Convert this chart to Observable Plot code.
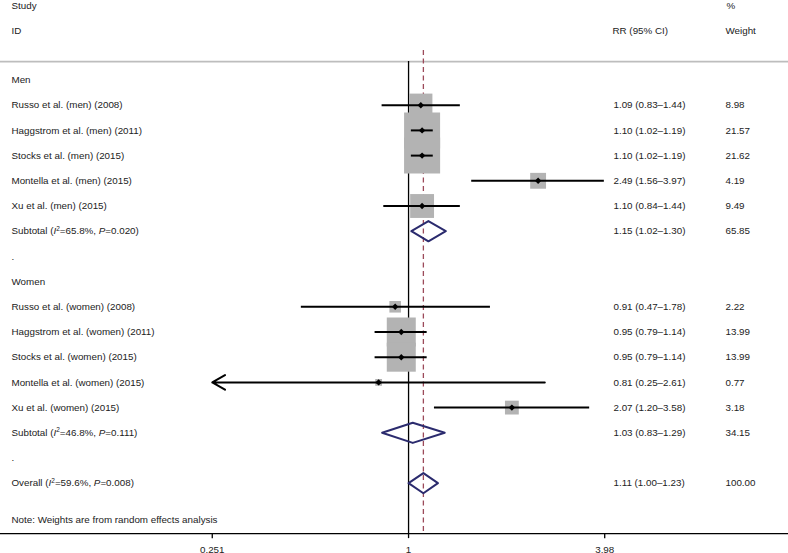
<!DOCTYPE html>
<html><head><meta charset="utf-8">
<script src="https://cdn.jsdelivr.net/npm/d3@7"></script>
<script src="https://cdn.jsdelivr.net/npm/@observablehq/plot@0.6"></script>
<style>
body{margin:0;background:#fff}
#chart svg{display:block}
</style>
</head><body><div id="chart"></div>
<script>
// ---- data ----
const groups = ["Men", "Women"];
const studies = [
  "Russo et al. (men) (2008)",
  "Haggstrom et al. (men) (2011)",
  "Stocks et al. (men) (2015)",
  "Montella et al. (men) (2015)",
  "Xu et al. (men) (2015)",
  "Russo et al. (women) (2008)",
  "Haggstrom et al. (women) (2011)",
  "Stocks et al. (women) (2015)",
  "Montella et al. (women) (2015)",
  "Xu et al. (women) (2015)"
];
const rr    = [1.09, 1.10, 1.10, 2.49, 1.10, 0.91, 0.95, 0.95, 0.81, 2.07];
const rrLo  = [0.83, 1.02, 1.02, 1.56, 0.84, 0.47, 0.79, 0.79, 0.25, 1.20];
const rrHi  = [1.44, 1.19, 1.19, 3.97, 1.44, 1.78, 1.14, 1.14, 2.61, 3.58];
const weights = [8.98, 21.57, 21.62, 4.19, 9.49, 2.22, 13.99, 13.99, 0.77, 3.18];

const pooledLabels = [
  "Subtotal (I²=65.8%, P=0.020)",
  "Subtotal (I²=46.8%, P=0.111)",
  "Overall (I²=59.6%, P=0.008)"
];
const pooledRR = [1.15, 1.03, 1.11];
const pooledLo = [1.02, 0.83, 1.00];
const pooledHi = [1.30, 1.29, 1.23];
const pooledWeights = ["65.85", "34.15", "100.00"];

const xTicks = [0.251, 1, 3.98];
const xTickLabels = ["0.251", "1", "3.98"];
const xDomain = [0.0565, 14.52];
const noteText = "Note: Weights are from random effects analysis";

// ---- layout rows ----
const studyRow = [1, 2, 3, 4, 5, 9, 10, 11, 12, 13];
const groupRow = [0, 8];
const pooledRow = [6, 14, 16];
const dotRow = [7, 15];
const headRow1 = -2.95, headRow2 = -1.95, lineRow = -0.73, noteRow = 17.45;
const axisRow = 18, tickEnd = 18.2, tickLabelRow = 18.65;

const fmt = (a, l, h) => `${a.toFixed(2)} (${l.toFixed(2)}–${h.toFixed(2)})`;

const studyData = studies.map((s, i) => ({
  label: s, rr: rr[i], lo: rrLo[i], hi: rrHi[i], w: weights[i], row: studyRow[i],
  ci: fmt(rr[i], rrLo[i], rrHi[i]), wt: weights[i].toFixed(2)
}));
const pooledData = pooledLabels.map((s, i) => ({
  label: s, rr: pooledRR[i], lo: pooledLo[i], hi: pooledHi[i], row: pooledRow[i],
  ci: fmt(pooledRR[i], pooledLo[i], pooledHi[i]), wt: pooledWeights[i]
}));
const leftLabels = [
  ...groups.map((g, i) => ({label: g, row: groupRow[i]})),
  ...studyData.map(d => ({label: d.label, row: d.row})),
  ...pooledData.map(d => ({label: d.label, row: d.row})),
  ...dotRow.map(r => ({label: ".", row: r})),
  {label: noteText, row: noteRow}
];
const headerData = [
  {label: "Study", row: headRow1, col: 11},
  {label: "ID", row: headRow2, col: 11},
  {label: "RR (95% CI)", row: headRow2, col: 612},
  {label: "%", row: headRow1, col: 726},
  {label: "Weight", row: headRow2, col: 725}
];
const tickData = xTicks.map((t, i) => ({x: t, label: xTickLabels[i]}));
const halfH = 0.4;
const diamondPts = pooledData.flatMap((d, i) => [
  {id: i, x: d.lo, y: d.row},
  {id: i, x: d.rr, y: d.row - halfH},
  {id: i, x: d.hi, y: d.row},
  {id: i, x: d.rr, y: d.row + halfH},
  {id: i, x: d.lo, y: d.row}
]);

const xmin = xTicks[0];
const textColor = "#222";
const fs = 9.8;
const font = "'Liberation Sans', Arial, Helvetica, sans-serif";

const chart = Plot.plot({
  width: 788,
  height: 553,
  marginLeft: 0, marginRight: 0, marginTop: 0, marginBottom: 0,
  style: {fontFamily: font, fontSize: fs + "px", color: "#111", background: "#fff"},
  x: {type: "log", domain: xDomain, axis: null},
  y: {domain: [-3.155, 18.79], reverse: true, axis: null},
  r: {type: "sqrt", domain: [0, 21.57], range: [0, 36 / Math.sqrt(Math.PI)]},
  marks: [
    Plot.ruleY([lineRow], {stroke: "#bdbdbd", strokeWidth: 1.6}),
    Plot.ruleX([1], {y1: lineRow, y2: axisRow, stroke: "#000", strokeWidth: 1.3}),
    Plot.ruleX([pooledRR[2]], {y1: -1.17, y2: axisRow, stroke: "#9c4a5a", strokeWidth: 1.3, strokeDasharray: "5,3.5"}),
    Plot.dot(studyData, {x: "rr", y: "row", r: "w", symbol: "square", fill: "#b3b3b3", stroke: "none"}),
    Plot.ruleY(studyData.filter(d => d.lo >= xmin), {y: "row", x1: "lo", x2: "hi", stroke: "#000", strokeWidth: 2}),
    Plot.arrow(studyData.filter(d => d.lo < xmin), {x1: "hi", x2: () => xmin, y1: "row", y2: "row",
      stroke: "#000", strokeWidth: 2, headLength: 11}),
    Plot.dot(studyData, {x: "rr", y: "row", r: 2.9, symbol: "diamond2", fill: "#000", stroke: "none"}),
    Plot.line(diamondPts, {x: "x", y: "y", z: "id", stroke: "#2b2b6e", strokeWidth: 2, curve: "linear"}),
    Plot.text(leftLabels, {y: "row", text: "label", frameAnchor: "left", dx: 11, textAnchor: "start", fill: textColor}),
    Plot.text([...studyData, ...pooledData], {y: "row", text: "ci", frameAnchor: "left", dx: 613, textAnchor: "start", fill: textColor}),
    Plot.text([...studyData, ...pooledData], {y: "row", text: "wt", frameAnchor: "left", dx: 725, textAnchor: "start", fill: textColor}),
    ...headerData.map(h => Plot.text([h], {y: "row", text: "label", frameAnchor: "left", dx: h.col, textAnchor: "start", fill: textColor})),
    // x axis: baseline, ticks and labels
    Plot.ruleY([axisRow], {stroke: "#000", strokeWidth: 1.4}),
    Plot.ruleX(tickData, {x: "x", y1: axisRow, y2: tickEnd, stroke: "#000", strokeWidth: 1.3}),
    Plot.text(tickData, {x: "x", y: tickLabelRow, text: "label", textAnchor: "middle", fill: textColor})
  ]
});

// italic I², P in subtotal / overall labels
d3.select(chart).selectAll("text").each(function() {
  const t = this.textContent;
  const m = t.match(/^(.*)\(I²=([^,]+), P=([^)]+)\)$/);
  if (!m) return;
  const el = d3.select(this);
  el.text(null);
  el.append("tspan").text(m[1] + "(");
  el.append("tspan").attr("font-style", "italic").text("I");
  el.append("tspan").attr("font-size", "6.5px").attr("dy", "-3.5").text("2");
  el.append("tspan").attr("dy", "3.5").text("=" + m[2] + ", ");
  el.append("tspan").attr("font-style", "italic").text("P");
  el.append("tspan").text("=" + m[3] + ")");
});

document.getElementById("chart").appendChild(chart);
</script>
</body></html>
